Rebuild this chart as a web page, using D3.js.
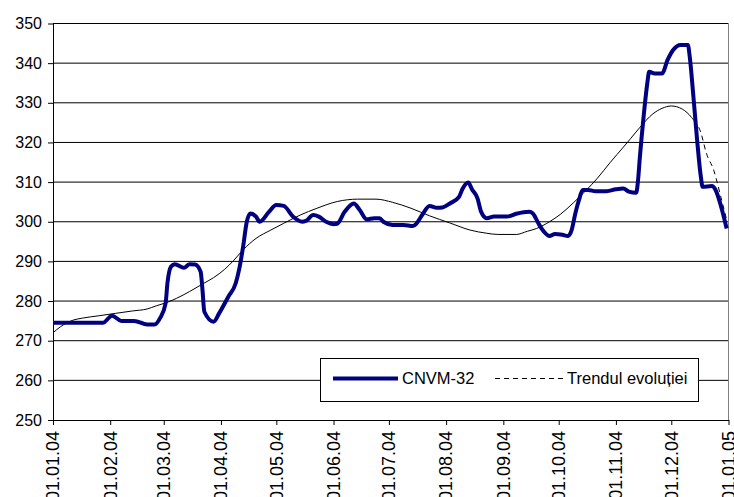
<!DOCTYPE html>
<html lang="ro">
  <head>
    <meta charset="utf-8" />
    <title>CNVM-32</title>
    <script src="https://d3js.org/d3.v7.min.js"></script>
    <style>
      body {
        margin: 0;
        background: #fff;
        font-family: Arial, "Liberation Sans", sans-serif;
      }
      .grid line {
        stroke: #000;
        stroke-width: 1px;
      }
      .xlab {
        font-size: 18px;
        text-anchor: end;
      }
      .leg {
        font-size: 16.5px;
      }
    </style>
  </head>
  <body>
    <svg id="chart" width="734" height="497"></svg>

    <script>
      // ---- data ----
      const cnvmDates = [
        "2004-01-01", "2004-01-28", "2004-02-02", "2004-02-07", "2004-02-14", "2004-02-21", "2004-02-25", "2004-02-28",
        "2004-03-02", "2004-03-03", "2004-03-05", "2004-03-07", "2004-03-12", "2004-03-15", "2004-03-18", "2004-03-21",
        "2004-03-22", "2004-03-23", "2004-03-28", "2004-03-31",
        "2004-04-05", "2004-04-09", "2004-04-11", "2004-04-13", "2004-04-15", "2004-04-17", "2004-04-20", "2004-04-22", "2004-04-27",
        "2004-05-01", "2004-05-05", "2004-05-10", "2004-05-15", "2004-05-17", "2004-05-21", "2004-05-24", "2004-05-28",
        "2004-06-01", "2004-06-03", "2004-06-07", "2004-06-12", "2004-06-15", "2004-06-19", "2004-06-23", "2004-06-26", "2004-06-28",
        "2004-07-03", "2004-07-09", "2004-07-14", "2004-07-16", "2004-07-19", "2004-07-23", "2004-07-27", "2004-07-30",
        "2004-08-03", "2004-08-08", "2004-08-10", "2004-08-13", "2004-08-15", "2004-08-18", "2004-08-20", "2004-08-23", "2004-08-27",
        "2004-09-03", "2004-09-08", "2004-09-15", "2004-09-17", "2004-09-20", "2004-09-23", "2004-09-26", "2004-09-29",
        "2004-10-03", "2004-10-06", "2004-10-08", "2004-10-10", "2004-10-12", "2004-10-14", "2004-10-17", "2004-10-21", "2004-10-27",
        "2004-11-01", "2004-11-05", "2004-11-08", "2004-11-12", "2004-11-13", "2004-11-14", "2004-11-16", "2004-11-18",
        "2004-11-19", "2004-11-22", "2004-11-26", "2004-11-29",
        "2004-12-02", "2004-12-06", "2004-12-10", "2004-12-11", "2004-12-13", "2004-12-15", "2004-12-17", "2004-12-18",
        "2004-12-23", "2004-12-25", "2004-12-28", "2004-12-31"
      ];
      const cnvmValues = [
        274.5, 274.5, 276.3, 275.0, 275.0, 274.1, 274.1, 275.7,
        279.4, 284.5, 288.7, 289.3, 288.4, 289.3, 289.2, 287.4,
        282.8, 277.3, 274.8, 276.9,
        281.1, 284.5, 288.3, 293.7, 300.0, 302.1, 301.3, 300.0, 302.5,
        304.2, 304.0, 301.3, 300.0, 300.2, 301.7, 301.3, 300.0,
        299.4, 299.5, 302.5, 304.6, 303.1, 300.6, 300.9, 300.9, 300.0,
        299.2, 299.2, 298.9, 299.6, 301.7, 304.0, 303.5, 303.6,
        304.6, 306.3, 308.4, 309.9, 308.2, 305.9, 302.5, 300.9, 301.3,
        301.3, 302.0, 302.5, 302.1, 299.6, 297.5, 296.4, 296.9,
        296.7, 296.4, 297.9, 302.1, 305.5, 308.0, 308.0, 307.7, 307.7,
        308.2, 308.4, 307.6, 307.3, 310.5, 316.4, 326.5, 334.9,
        337.8, 337.4, 337.4, 340.8,
        343.3, 344.6, 344.6, 341.6, 331.5, 320.6, 311.4, 308.8,
        309.0, 308.0, 303.8, 298.3
      ];

      const trendDates = [
        "2004-01-01", "2004-01-05", "2004-01-12", "2004-01-17", "2004-01-26", "2004-02-04", "2004-02-13", "2004-02-21",
        "2004-02-26", "2004-03-03", "2004-03-08", "2004-03-15", "2004-03-22", "2004-03-28", "2004-04-03", "2004-04-08",
        "2004-04-13", "2004-04-20", "2004-04-28", "2004-05-05", "2004-05-14", "2004-05-23", "2004-06-03", "2004-06-14",
        "2004-06-24", "2004-07-03", "2004-07-13", "2004-07-23", "2004-08-03", "2004-08-14", "2004-08-23", "2004-08-29",
        "2004-09-08", "2004-09-14", "2004-09-19", "2004-09-26", "2004-10-02", "2004-10-09", "2004-10-16", "2004-10-22",
        "2004-10-29", "2004-11-05", "2004-11-09", "2004-11-14", "2004-11-21", "2004-11-26", "2004-12-01", "2004-12-07",
        "2004-12-12", "2004-12-17", "2004-12-20", "2004-12-24", "2004-12-28", "2004-12-31"
      ];
      const trendValues = [
        272.0, 273.5, 275.2, 275.7, 276.3, 276.9, 277.5, 278.0,
        278.8, 279.7, 280.7, 282.4, 284.3, 285.9, 288.0, 290.3,
        292.9, 295.8, 297.9, 299.6, 301.7, 303.4, 305.1, 305.7,
        305.7, 304.9, 303.4, 301.5, 299.7, 297.9, 297.1, 296.8,
        296.8, 297.6, 298.3, 300.0, 301.9, 304.8, 308.0, 311.0,
        315.0, 318.8, 321.0, 323.8, 327.2, 328.6, 329.2, 328.4,
        326.3, 322.5, 317.3, 313.0, 306.0, 300.5
      ];
      // trend line turns dashed from here on
      const trendDashFrom = "2004-12-14";

      const yTicks = [250, 260, 270, 280, 290, 300, 310, 320, 330, 340, 350];
      const xTicks = [
        "2004-01-01", "2004-02-01", "2004-03-01", "2004-04-01", "2004-05-01", "2004-06-01", "2004-07-01",
        "2004-08-01", "2004-09-01", "2004-10-01", "2004-11-01", "2004-12-01", "2005-01-01"
      ];
      const seriesNames = ["CNVM-32", "Trendul evoluției"];

      // ---- scales ----
      const svg = d3.select("#chart");
      const parse = d3.timeParse("%Y-%m-%d");
      const fmt = d3.timeFormat("%d.%m.%y");

      const plotLeft = 53, plotRight = 728.5, plotTop = 23.5, plotBottom = 420;

      const x = d3.scaleTime()
        .domain([parse("2004-01-01"), parse("2005-01-01")])
        .range([plotLeft, plotRight]);
      const y = d3.scaleLinear().domain([250, 350]).range([plotBottom, plotTop]);

      const cnvm = cnvmDates.map((d, i) => ({ date: parse(d), value: cnvmValues[i] }));
      const trend = trendDates.map((d, i) => ({ date: parse(d), value: trendValues[i] }));

      // ---- grid ----
      svg.append("g")
        .attr("class", "grid")
        .selectAll("line")
        .data(yTicks.filter((t) => t > 250))
        .join("line")
        .attr("x1", plotLeft)
        .attr("x2", plotRight)
        .attr("y1", (d) => y(d))
        .attr("y2", (d) => y(d));

      // right border of the plot area
      svg.append("line")
        .attr("x1", plotRight).attr("x2", plotRight)
        .attr("y1", plotTop).attr("y2", plotBottom)
        .attr("stroke", "#808080");

      // ---- axes ----
      const yAxis = svg.append("g")
        .attr("transform", `translate(${plotLeft},0)`)
        .call(d3.axisLeft(y).tickValues(yTicks).tickSize(5).tickSizeOuter(0).tickFormat(d3.format("d")));
      yAxis.select(".domain").attr("stroke", "#000");
      yAxis.selectAll("text")
        .attr("x", -11)
        .attr("fill", "#000")
        .style("font-size", "16px")
        .style("font-family", "Arial, 'Liberation Sans', sans-serif");

      const xAxis = svg.append("g")
        .attr("transform", `translate(0,${plotBottom})`)
        .call(d3.axisBottom(x).tickValues(xTicks.map(parse)).tickSize(5).tickSizeOuter(0).tickFormat(""));
      xAxis.select(".domain").attr("stroke", "#000");

      svg.append("g")
        .selectAll("text")
        .data(xTicks.map(parse))
        .join("text")
        .attr("class", "xlab")
        .attr("transform", (d) => `translate(${x(d)},${plotBottom + 11}) rotate(-90)`)
        .attr("dy", "0.35em")
        .text((d) => fmt(d));

      // ---- lines ----
      const trendLine = d3.line()
        .x((d) => x(d.date))
        .y((d) => y(d.value))
        .curve(d3.curveMonotoneX);

      const splitX = x(parse(trendDashFrom));
      const defs = svg.append("defs");
      defs.append("clipPath").attr("id", "solidPart")
        .append("rect").attr("x", 0).attr("y", 0).attr("width", splitX).attr("height", 497);
      defs.append("clipPath").attr("id", "dashPart")
        .append("rect").attr("x", splitX).attr("y", 0).attr("width", 734 - splitX).attr("height", 497);

      svg.append("path")
        .datum(trend)
        .attr("d", trendLine)
        .attr("clip-path", "url(#solidPart)")
        .attr("fill", "none")
        .attr("stroke", "#000")
        .attr("stroke-width", 1);

      svg.append("path")
        .datum(trend)
        .attr("d", trendLine)
        .attr("clip-path", "url(#dashPart)")
        .attr("fill", "none")
        .attr("stroke", "#000")
        .attr("stroke-width", 1)
        .attr("stroke-dasharray", "5,4");

      svg.append("path")
        .datum(cnvm)
        .attr("d", d3.line().x((d) => x(d.date)).y((d) => y(d.value)).curve(d3.curveMonotoneX))
        .attr("fill", "none")
        .attr("stroke", "#000080")
        .attr("stroke-width", 4)
        .attr("stroke-linejoin", "round");

      // ---- legend ----
      const leg = svg.append("g");
      leg.append("rect")
        .attr("x", 320.5).attr("y", 358.5)
        .attr("width", 378).attr("height", 43)
        .attr("fill", "#fff")
        .attr("stroke", "#000");

      leg.append("line")
        .attr("x1", 333).attr("x2", 398).attr("y1", 378.5).attr("y2", 378.5)
        .attr("stroke", "#000080").attr("stroke-width", 4);
      leg.append("text").attr("class", "leg").attr("x", 402).attr("y", 384).text(seriesNames[0]);

      leg.append("line")
        .attr("x1", 495).attr("x2", 564).attr("y1", 378.5).attr("y2", 378.5)
        .attr("stroke", "#000").attr("stroke-width", 1)
        .attr("stroke-dasharray", "5,4");
      leg.append("text").attr("class", "leg").attr("x", 567).attr("y", 384).text(seriesNames[1]);
    </script>
  </body>
</html>
